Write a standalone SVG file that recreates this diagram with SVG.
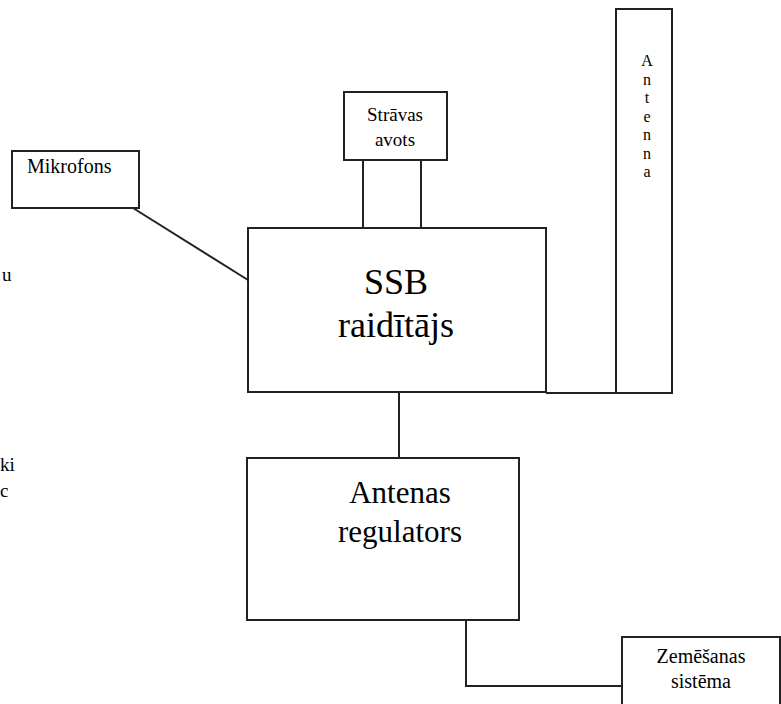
<svg xmlns="http://www.w3.org/2000/svg" width="781" height="704" viewBox="0 0 781 704">
<style>
.box{fill:#fff;stroke:#222;stroke-width:2}
.ln{fill:none;stroke:#222;stroke-width:2}
.c{text-anchor:middle}
</style>
<rect width="781" height="704" fill="#fff"/>
<g font-family="'Liberation Serif', 'Times New Roman', 'DejaVu Serif', serif" fill="#000">
<g id="stray">
<text x="2" y="281" font-size="19">u</text>
<text x="0" y="471" font-size="19">ki</text>
<text x="0" y="497" font-size="19">c</text>
</g>
<g id="connectors">
<line class="ln" x1="133" y1="208" x2="248" y2="280"/>
<line class="ln" x1="363" y1="161" x2="363" y2="228"/>
<line class="ln" x1="421" y1="161" x2="421" y2="228"/>
<line class="ln" x1="546" y1="393" x2="648" y2="393"/>
<line class="ln" x1="399" y1="392" x2="399" y2="458"/>
<polyline class="ln" points="466,620 466,686 622,686"/>
</g>
<g id="mikrofons">
<rect class="box" x="12" y="151" width="127" height="57"/>
<text x="27" y="173" font-size="20">Mikrofons</text>
</g>
<g id="stravas">
<rect class="box" x="344" y="92" width="103" height="68"/>
<text class="c" x="395" y="121" font-size="19">Strāvas</text>
<text class="c" x="395" y="146" font-size="19">avots</text>
</g>
<g id="ssb">
<rect class="box" x="248" y="228" width="298" height="164"/>
<text class="c" x="396" y="294" font-size="36">SSB</text>
<text class="c" x="396" y="337" font-size="36">raidītājs</text>
</g>
<g id="antenna">
<rect class="box" x="616" y="9" width="56" height="384"/>
<g font-size="16" text-anchor="middle">
<text x="647" y="66">A</text>
<text x="647" y="84.5">n</text>
<text x="647" y="103">t</text>
<text x="647" y="121.5">e</text>
<text x="647" y="140">n</text>
<text x="647" y="158.5">n</text>
<text x="647" y="177">a</text>
</g>
</g>
<g id="regulators">
<rect class="box" x="247" y="458" width="272" height="162"/>
<text class="c" x="400" y="503" font-size="31">Antenas</text>
<text class="c" x="400" y="542" font-size="31">regulators</text>
</g>
<g id="zemesanas">
<rect class="box" x="622" y="637" width="158" height="80"/>
<text class="c" x="701" y="663" font-size="20">Zemēšanas</text>
<text class="c" x="701" y="688" font-size="20">sistēma</text>
</g>
</g>
</svg>
